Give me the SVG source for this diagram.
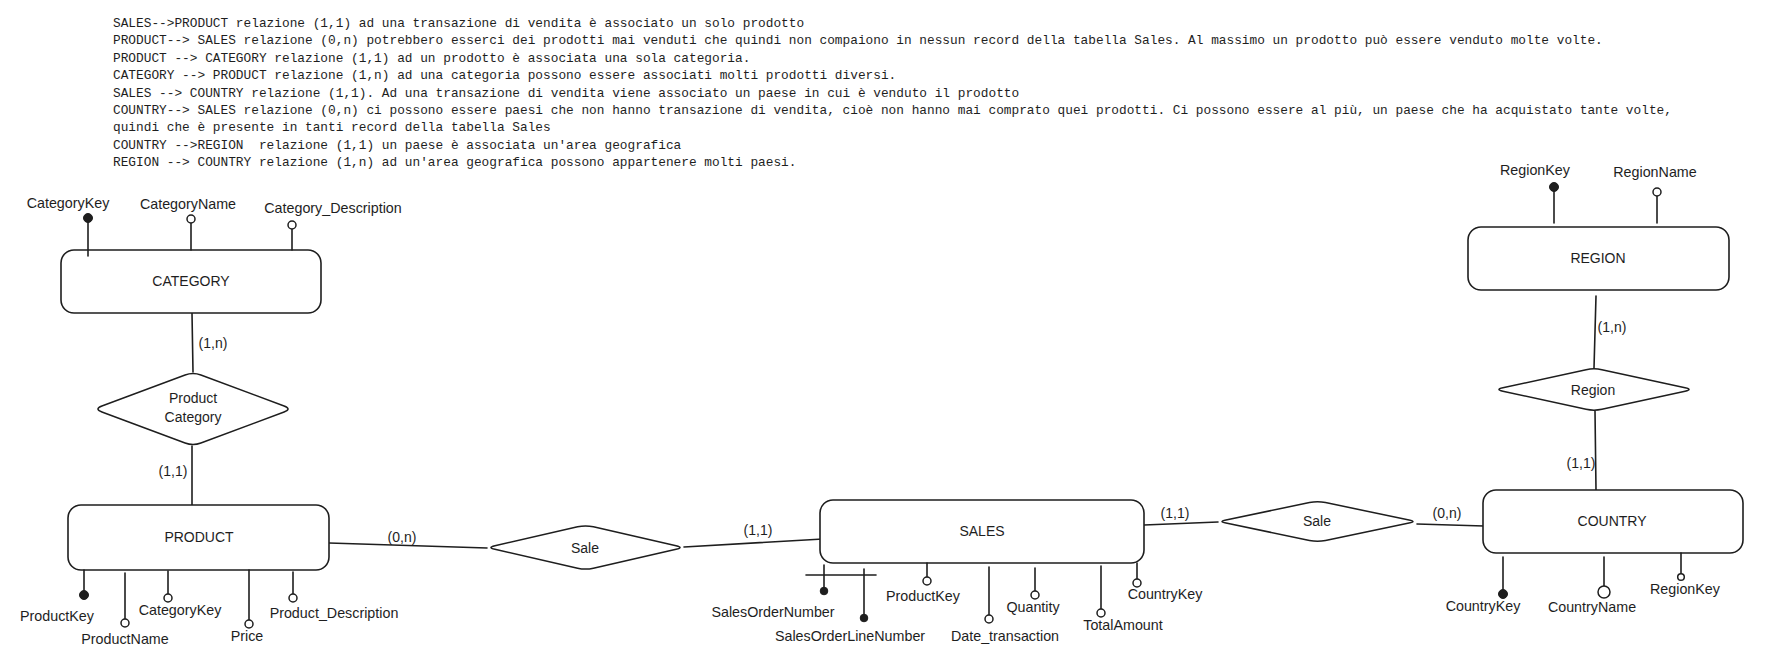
<svg xmlns="http://www.w3.org/2000/svg" width="1777" height="654" viewBox="0 0 1777 654">
<style>
.bg{fill:#ffffff}
.note{font-family:"Liberation Mono","DejaVu Sans Mono",monospace;font-size:12.8px;fill:#1e1e1e;white-space:pre}
.ent{fill:#ffffff;stroke:#1e1e1e;stroke-width:1.6}
.rel{fill:#ffffff;stroke:#1e1e1e;stroke-width:1.5;stroke-linejoin:round}
.ln{stroke:#1e1e1e;stroke-width:1.6;fill:none;stroke-linecap:round}
.t{font-family:"Liberation Sans",Arial,sans-serif;font-size:14px;fill:#1e1e1e;text-anchor:middle;dominant-baseline:central}
.a{font-family:"Liberation Sans",Arial,sans-serif;font-size:14.3px;fill:#1e1e1e;text-anchor:middle;dominant-baseline:central}
.dot{fill:#1e1e1e;stroke:#1e1e1e;stroke-width:1}
.oc{fill:#ffffff;stroke:#1e1e1e;stroke-width:1.5}
</style>
<rect class="bg" x="0" y="0" width="1777" height="654"/>

<g id="notes" class="note" xml:space="preserve">
<text x="113" y="27">SALES--&gt;PRODUCT relazione (1,1) ad una transazione di vendita è associato un solo prodotto</text>
<text x="113" y="44.4">PRODUCT--&gt; SALES relazione (0,n) potrebbero esserci dei prodotti mai venduti che quindi non compaiono in nessun record della tabella Sales. Al massimo un prodotto può essere venduto molte volte.</text>
<text x="113" y="61.8">PRODUCT --&gt; CATEGORY relazione (1,1) ad un prodotto è associata una sola categoria.</text>
<text x="113" y="79.2">CATEGORY --&gt; PRODUCT relazione (1,n) ad una categoria possono essere associati molti prodotti diversi.</text>
<text x="113" y="96.6">SALES --&gt; COUNTRY relazione (1,1). Ad una transazione di vendita viene associato un paese in cui è venduto il prodotto</text>
<text x="113" y="114">COUNTRY--&gt; SALES relazione (0,n) ci possono essere paesi che non hanno transazione di vendita, cioè non hanno mai comprato quei prodotti. Ci possono essere al più, un paese che ha acquistato tante volte,</text>
<text x="113" y="131.4">quindi che è presente in tanti record della tabella Sales</text>
<text x="113" y="148.8" xml:space="preserve">COUNTRY --&gt;REGION  relazione (1,1) un paese è associata un'area geografica</text>
<text x="113" y="166.2">REGION --&gt; COUNTRY relazione (1,n) ad un'area geografica possono appartenere molti paesi.</text>
</g>

<g id="connectors">
<line class="ln" x1="192" y1="313" x2="193" y2="372"/>
<line class="ln" x1="192" y1="446" x2="192" y2="505"/>
<line class="ln" x1="329" y1="543" x2="487" y2="548"/>
<line class="ln" x1="684" y1="547" x2="823" y2="539"/>
<line class="ln" x1="1144" y1="525" x2="1218" y2="522"/>
<line class="ln" x1="1417" y1="524" x2="1484" y2="526"/>
<line class="ln" x1="1596" y1="296" x2="1594" y2="368"/>
<line class="ln" x1="1595" y1="411" x2="1596" y2="490"/>
<text class="t" x="213" y="343">(1,n)</text>
<text class="t" x="173" y="471">(1,1)</text>
<text class="t" x="402" y="537">(0,n)</text>
<text class="t" x="758" y="530">(1,1)</text>
<text class="t" x="1175" y="513">(1,1)</text>
<text class="t" x="1447" y="513">(0,n)</text>
<text class="t" x="1612" y="327">(1,n)</text>
<text class="t" x="1581" y="463">(1,1)</text>
</g>

<g id="category">
<rect class="ent" x="61" y="250" width="260" height="63" rx="13"/>
<text class="t" x="191" y="281">CATEGORY</text>
<line class="ln" x1="88" y1="218" x2="88" y2="256"/>
<circle class="dot" cx="88" cy="218" r="4.5"/>
<text class="a" x="68" y="203">CategoryKey</text>
<line class="ln" x1="191" y1="223" x2="191" y2="250"/>
<circle class="oc" cx="191" cy="219" r="4"/>
<text class="a" x="188" y="204">CategoryName</text>
<line class="ln" x1="292" y1="229" x2="292" y2="250"/>
<circle class="oc" cx="292" cy="225" r="4"/>
<text class="a" x="333" y="208">Category_Description</text>
</g>

<g id="product-category">
<path class="rel" d="M101.9,406 L185.1,375 Q193,372 200.9,375 L284.1,406 Q292,409 284.1,412 L200.9,443 Q193,446 185.1,443 L101.9,412 Q94,409 101.9,406 Z"/>
<text class="t" x="193" y="398">Product</text>
<text class="t" x="193" y="417">Category</text>
</g>

<g id="product">
<rect class="ent" x="68" y="505" width="261" height="65" rx="13"/>
<text class="t" x="199" y="537">PRODUCT</text>
<line class="ln" x1="84" y1="570" x2="84" y2="595"/>
<circle class="dot" cx="84" cy="595" r="4.5"/>
<text class="a" x="57" y="616">ProductKey</text>
<line class="ln" x1="125" y1="573" x2="125" y2="619"/>
<circle class="oc" cx="125" cy="623" r="4"/>
<text class="a" x="125" y="639">ProductName</text>
<line class="ln" x1="168" y1="571" x2="168" y2="594"/>
<circle class="oc" cx="168" cy="598" r="4"/>
<text class="a" x="180" y="610">CategoryKey</text>
<line class="ln" x1="249" y1="570" x2="249" y2="620"/>
<circle class="oc" cx="249" cy="624" r="4"/>
<text class="a" x="247" y="636">Price</text>
<line class="ln" x1="293" y1="572" x2="293" y2="594"/>
<circle class="oc" cx="293" cy="598" r="4"/>
<text class="a" x="334" y="613">Product_Description</text>
</g>

<g id="sale-product">
<path class="rel" d="M494.9,545.7 L577.6,526.8 Q585.5,525 593.4,526.8 L676.1,545.7 Q684,547.5 676.1,549.3 L593.4,568.2 Q585.5,570 577.6,568.2 L494.9,549.3 Q487,547.5 494.9,545.7 Z"/>
<text class="t" x="585" y="548">Sale</text>
</g>

<g id="sales">
<rect class="ent" x="820" y="500" width="324" height="63" rx="13"/>
<text class="t" x="982" y="531">SALES</text>
<line class="ln" x1="806" y1="575" x2="876" y2="575"/>
<line class="ln" x1="824" y1="565" x2="824" y2="591"/>
<circle class="dot" cx="824" cy="591" r="3.8"/>
<text class="a" x="773" y="612">SalesOrderNumber</text>
<line class="ln" x1="864" y1="569" x2="864" y2="618"/>
<circle class="dot" cx="864" cy="618" r="3.8"/>
<text class="a" x="850" y="636">SalesOrderLineNumber</text>
<line class="ln" x1="927" y1="563" x2="927" y2="577"/>
<circle class="oc" cx="927" cy="581" r="4"/>
<text class="a" x="923" y="596">ProductKey</text>
<line class="ln" x1="989" y1="567" x2="989" y2="615"/>
<circle class="oc" cx="989" cy="619" r="4"/>
<text class="a" x="1005" y="636">Date_transaction</text>
<line class="ln" x1="1035" y1="568" x2="1035" y2="591"/>
<circle class="oc" cx="1035" cy="595" r="4"/>
<text class="a" x="1033" y="607">Quantity</text>
<line class="ln" x1="1101" y1="566" x2="1101" y2="609"/>
<circle class="oc" cx="1101" cy="613" r="4"/>
<text class="a" x="1123" y="625">TotalAmount</text>
<line class="ln" x1="1137" y1="563" x2="1137" y2="579"/>
<circle class="oc" cx="1137" cy="583" r="4"/>
<text class="a" x="1165" y="594">CountryKey</text>
</g>

<g id="sale-country">
<path class="rel" d="M1226,519.9 L1309.5,502.6 Q1317.5,501 1325.5,502.6 L1409,519.9 Q1417,521.5 1409,523.1 L1325.5,540.4 Q1317.5,542 1309.5,540.4 L1226,523.1 Q1218,521.5 1226,519.9 Z"/>
<text class="t" x="1317" y="521">Sale</text>
</g>

<g id="country">
<rect class="ent" x="1483" y="490" width="260" height="63" rx="13"/>
<text class="t" x="1612" y="521">COUNTRY</text>
<line class="ln" x1="1503" y1="557" x2="1503" y2="594"/>
<circle class="dot" cx="1503" cy="594" r="4.5"/>
<text class="a" x="1483" y="606">CountryKey</text>
<line class="ln" x1="1604" y1="557" x2="1604" y2="586"/>
<circle class="oc" cx="1604" cy="592" r="6"/>
<text class="a" x="1592" y="607">CountryName</text>
<line class="ln" x1="1681" y1="553" x2="1681" y2="574"/>
<circle class="oc" cx="1681" cy="577" r="3.3"/>
<text class="a" x="1685" y="589">RegionKey</text>
</g>

<g id="region-rel">
<path class="rel" d="M1502.9,387.8 L1586.1,369.7 Q1594,368 1601.9,369.7 L1685.1,387.8 Q1693,389.5 1685.1,391.2 L1601.9,409.3 Q1594,411 1586.1,409.3 L1502.9,391.2 Q1495,389.5 1502.9,387.8 Z"/>
<text class="t" x="1593" y="390">Region</text>
</g>

<g id="region">
<rect class="ent" x="1468" y="227" width="261" height="63" rx="13"/>
<text class="t" x="1598" y="258">REGION</text>
<line class="ln" x1="1554" y1="191" x2="1554" y2="223"/>
<circle class="dot" cx="1554" cy="187" r="4.5"/>
<text class="a" x="1535" y="170">RegionKey</text>
<line class="ln" x1="1657" y1="196" x2="1657" y2="223"/>
<circle class="oc" cx="1657" cy="192" r="4"/>
<text class="a" x="1655" y="172">RegionName</text>
</g>
</svg>
